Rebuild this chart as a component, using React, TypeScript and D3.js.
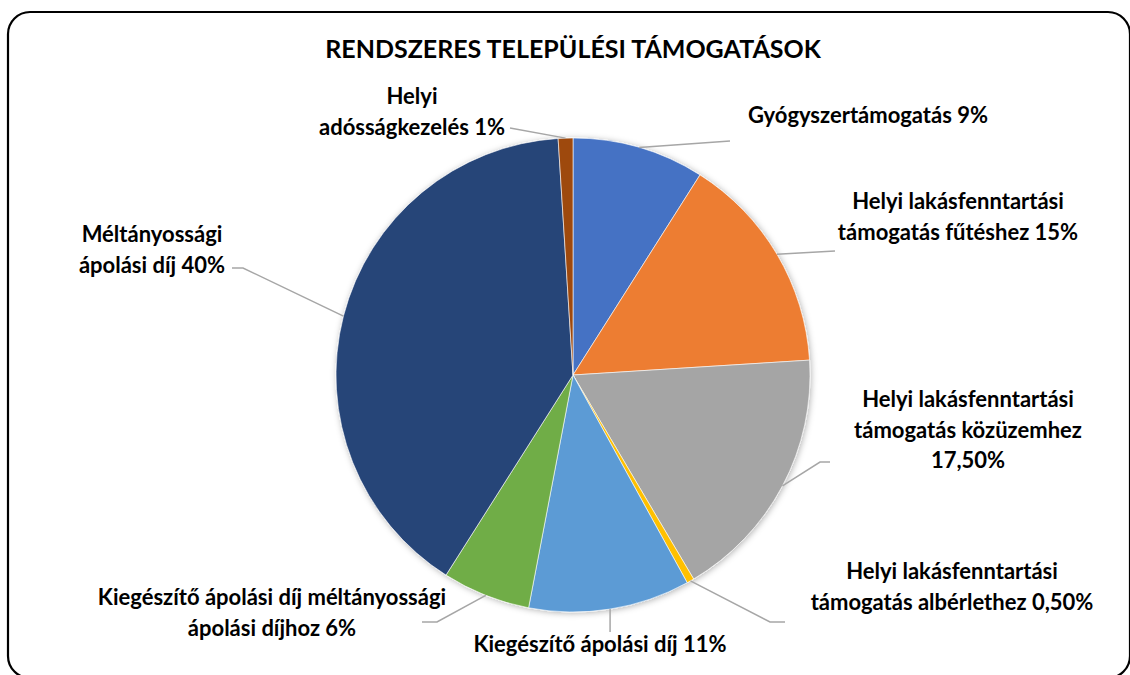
import React from 'react';
import * as d3 from 'd3';

const title = 'RENDSZERES TELEPÜLÉSI TÁMOGATÁSOK';
const categories = [
  'Gyógyszertámogatás',
  'Helyi lakásfenntartási támogatás fűtéshez',
  'Helyi lakásfenntartási támogatás közüzemhez',
  'Helyi lakásfenntartási támogatás albérlethez',
  'Kiegészítő ápolási díj',
  'Kiegészítő ápolási díj méltányossági ápolási díjhoz',
  'Méltányossági ápolási díj',
  'Helyi adósságkezelés',
];
const values = [9, 15, 17.5, 0.5, 11, 6, 40, 1];
// label text broken into lines the way the picture shows them
const labelLines = [
  ['Gyógyszertámogatás 9%'],
  ['Helyi lakásfenntartási', 'támogatás fűtéshez 15%'],
  ['Helyi lakásfenntartási', 'támogatás közüzemhez', '17,50%'],
  ['Helyi lakásfenntartási', 'támogatás albérlethez 0,50%'],
  ['Kiegészítő ápolási díj 11%'],
  ['Kiegészítő ápolási díj méltányossági', 'ápolási díjhoz 6%'],
  ['Méltányossági', 'ápolási díj 40%'],
  ['Helyi', 'adósságkezelés 1%'],
];
const colors = ['#4472C4', '#ED7D31', '#A5A5A5', '#FFC000', '#5B9BD5', '#70AD47', '#264478', '#9E480E'];

// label placement: centre x, first baseline y, leader points after the pie edge
const labelPos = [
  { x: 868, y: 123, lead: [[730, 141]] },
  { x: 958, y: 209, lead: [[835, 251]] },
  { x: 968, y: 407, lead: [[820, 462], [830, 462]] },
  { x: 952, y: 579, lead: [[770, 622], [785, 622]] },
  { x: 600, y: 652, lead: [['edge', 632]] },
  { x: 272, y: 605, lead: [[437, 622], [422, 622]] },
  { x: 152, y: 242, lead: [[243, 268], [232, 268]] },
  { x: 412, y: 104, lead: [[510, 128]] },
];

const W = 1130, H = 675;
const cx = 573, cy = 375, R = 237;
const font = "Lato, 'Open Sans', sans-serif";

export default function App() {
  const pie = d3.pie<number>().value(d => d).sort(null);
  const arcs = pie(values);
  const arc = d3.arc<d3.PieArcDatum<number>>().innerRadius(0).outerRadius(R);

  return (
    <svg width={W} height={H} style={{ position: 'absolute', left: 0, top: 0, background: '#fff' }}>
      <defs>
        <filter id="sh" x="-20%" y="-20%" width="140%" height="140%">
          <feDropShadow dx="1" dy="1" stdDeviation="3" floodColor="#000" floodOpacity="0.3" />
        </filter>
      </defs>
      <rect x={8} y={12} width={1122} height={666} rx={22} ry={22} fill="#fff" stroke="#000" strokeWidth={2.2} />
      <text x={cx} y={58} textAnchor="middle" fontFamily={font} fontWeight="bold" fontSize={25} fill="#000">
        {title}
      </text>
      <g transform={`translate(${cx},${cy})`} filter="url(#sh)">
        {arcs.map((a, i) => (
          <path key={categories[i]} d={arc(a) || ''} fill={colors[i]} stroke="#fff" strokeWidth={0.6} />
        ))}
      </g>
      {arcs.map((a, i) => {
        const mid = (a.startAngle + a.endAngle) / 2;
        const ex = cx + R * Math.sin(mid);
        const ey = cy - R * Math.cos(mid);
        const pts = [[ex, ey], ...labelPos[i].lead.map(p => [p[0] === 'edge' ? ex : p[0], p[1]])] as [number, number][];
        return (
          <path key={'l' + i} d={d3.line()(pts) || ''} fill="none" stroke="#A6A6A6" strokeWidth={1.5} />
        );
      })}
      {labelLines.map((lines, i) => (
        <text key={'t' + i} textAnchor="middle" fontFamily={font} fontWeight="bold" fontSize={22} fill="#000">
          {lines.map((ln, j) => (
            <tspan key={j} x={labelPos[i].x} y={labelPos[i].y + j * 30.5}>{ln}</tspan>
          ))}
        </text>
      ))}
    </svg>
  );
}
